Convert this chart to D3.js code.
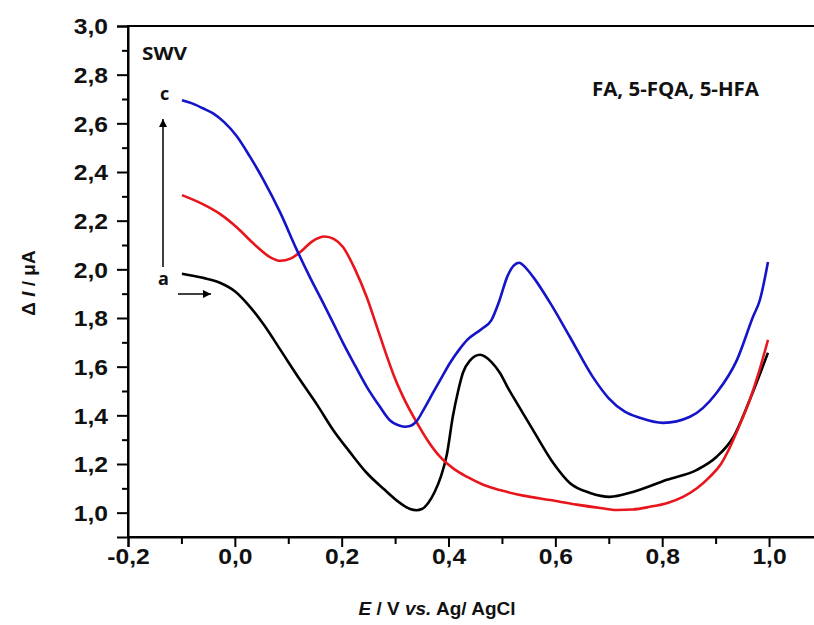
<!DOCTYPE html>
<html><head><meta charset="utf-8">
<script src="https://cdn.jsdelivr.net/npm/d3@7"></script>
<style>body{margin:0;background:#fff}svg{display:block}</style>
</head><body>
<svg id="chart" width="814" height="625"></svg>
<script>
// ---- data ----
const xTicks = [-0.2, 0.0, 0.2, 0.4, 0.6, 0.8, 1.0];
const yTicks = [1.0, 1.2, 1.4, 1.6, 1.8, 2.0, 2.2, 2.4, 2.6, 2.8, 3.0];
const xMinor = [-0.1, 0.1, 0.3, 0.5, 0.7, 0.9];
const yMinor = [1.1, 1.3, 1.5, 1.7, 1.9, 2.1, 2.3, 2.5, 2.7, 2.9];

const curveA_E = [-0.099,-0.06,-0.028,0.0,0.028,0.055,0.085,0.122,0.155,0.184,0.215,0.247,0.28,0.309,0.328,0.34,0.35,0.362,0.374,0.386,0.397,0.408,0.418,0.427,0.44,0.459,0.48,0.496,0.512,0.528,0.558,0.596,0.627,0.665,0.702,0.745,0.809,0.865,0.902,0.933,0.964,0.998];
const curveA_I = [1.982,1.965,1.945,1.91,1.847,1.77,1.67,1.546,1.44,1.34,1.25,1.163,1.095,1.04,1.015,1.01,1.015,1.04,1.085,1.15,1.24,1.394,1.50,1.575,1.625,1.649,1.62,1.575,1.51,1.45,1.34,1.204,1.122,1.081,1.065,1.085,1.135,1.176,1.23,1.31,1.464,1.657];

const curveB_E = [-0.099,-0.06,-0.028,0.004,0.034,0.066,0.085,0.105,0.122,0.145,0.168,0.185,0.202,0.225,0.247,0.265,0.285,0.30,0.315,0.341,0.36,0.384,0.41,0.435,0.465,0.496,0.54,0.59,0.64,0.684,0.715,0.745,0.777,0.81,0.839,0.865,0.889,0.91,0.927,0.945,0.964,0.98,0.998];
const curveB_I = [2.305,2.268,2.228,2.172,2.108,2.05,2.035,2.045,2.07,2.115,2.135,2.125,2.093,2.0,1.885,1.77,1.64,1.55,1.476,1.369,1.30,1.23,1.18,1.147,1.115,1.093,1.07,1.052,1.033,1.019,1.011,1.013,1.024,1.04,1.065,1.10,1.147,1.20,1.27,1.36,1.464,1.57,1.71];

const curveC_E = [-0.099,-0.08,-0.06,-0.04,-0.02,0.004,0.028,0.053,0.085,0.116,0.14,0.165,0.184,0.202,0.225,0.247,0.27,0.29,0.305,0.318,0.328,0.34,0.355,0.371,0.387,0.403,0.42,0.435,0.462,0.48,0.495,0.51,0.522,0.532,0.545,0.558,0.59,0.627,0.67,0.70,0.73,0.758,0.802,0.852,0.902,0.94,0.97,0.983,0.998];
const curveC_I = [2.695,2.682,2.662,2.64,2.605,2.546,2.464,2.37,2.233,2.08,1.97,1.863,1.78,1.70,1.605,1.517,1.44,1.38,1.36,1.353,1.356,1.375,1.43,1.493,1.555,1.616,1.67,1.71,1.755,1.79,1.87,1.97,2.015,2.027,2.005,1.97,1.863,1.723,1.558,1.47,1.415,1.39,1.369,1.394,1.493,1.628,1.805,1.875,2.03];

const seriesNames = ["a", "b", "c"];
const seriesColors = ["#000000", "#e8161c", "#1414c8"];

// ---- layout ----
const svg = d3.select("#chart");
const L = 128, T = 26, B = 537;
const x = d3.scaleLinear().domain([-0.2, 1.1]).range([L, L + 1.3 * 534.2]);
const y = d3.scaleLinear().domain([0.9, 3.0]).range([B, T]);
const fmt = v => v.toFixed(1).replace(".", ",");
const stretch = 1.12;

// curves
const line = d3.line().x(d => x(d[0])).y(d => y(d[1])).curve(d3.curveMonotoneX);
const series = [
  d3.zip(curveA_E, curveA_I),
  d3.zip(curveB_E, curveB_I),
  d3.zip(curveC_E, curveC_I)
];
series.forEach((s, i) => {
  svg.append("path").datum(s).attr("d", line)
    .attr("fill", "none").attr("stroke", seriesColors[i])
    .attr("stroke-width", 2.6).attr("stroke-linejoin", "round");
});

// frame
svg.append("rect").attr("x", x(-0.2)).attr("y", y(3.0))
  .attr("width", x(1.1) - x(-0.2)).attr("height", y(0.9) - y(3.0))
  .attr("fill", "none").attr("stroke", "#000").attr("stroke-width", 2);

// y axis
const gy = svg.append("g").attr("transform", `translate(${L},0)`)
  .call(d3.axisLeft(y).tickValues(yTicks).tickSize(11).tickPadding(9).tickFormat(fmt));
svg.append("g").attr("transform", `translate(${L},0)`)
  .call(d3.axisLeft(y).tickValues(yMinor).tickSize(6).tickFormat(""))
  .call(g => g.select(".domain").remove());
// x axis
const gx = svg.append("g").attr("transform", `translate(0,${B})`)
  .call(d3.axisBottom(x).tickValues(xTicks).tickSize(10).tickPadding(11).tickFormat(fmt));
svg.append("g").attr("transform", `translate(0,${B})`)
  .call(d3.axisBottom(x).tickValues(xMinor).tickSize(7).tickFormat(""))
  .call(g => g.select(".domain").remove());

svg.selectAll(".domain").attr("stroke-width", 2);
svg.selectAll(".tick line").attr("stroke-width", 2);
svg.selectAll(".tick text")
  .attr("font-family", "Liberation Sans, Arial, sans-serif")
  .attr("font-weight", "bold").attr("font-size", 22).attr("fill", "#111");
gy.selectAll(".tick text").attr("dy", "0.36em");
gx.selectAll(".tick text").attr("y", 27).attr("dy", 0);
svg.selectAll(".tick text").each(function () {
  const w = this.getComputedTextLength();
  d3.select(this).attr("textLength", w * stretch).attr("lengthAdjust", "spacingAndGlyphs");
});

// axis titles
const xt = svg.append("text").attr("x", 437).attr("y", 615).attr("text-anchor", "middle")
  .attr("font-family", "Liberation Sans, Arial, sans-serif").attr("font-weight", "bold")
  .attr("font-size", 19).attr("fill", "#111");
xt.append("tspan").attr("font-style", "italic").text("E");
xt.append("tspan").text(" / V ");
xt.append("tspan").attr("font-style", "italic").text("vs.");
xt.append("tspan").text(" Ag/ AgCl");

const yt = svg.append("text").attr("transform", "translate(35,283) rotate(-90)")
  .attr("text-anchor", "middle")
  .attr("font-family", "Liberation Sans, Arial, sans-serif").attr("font-weight", "bold")
  .attr("font-size", 19).attr("fill", "#111");
yt.append("tspan").text("Δ ");
yt.append("tspan").attr("font-style", "italic").text("I");
yt.append("tspan").text(" / μA");

// annotations
const ann = (tx, ty, s, size, len) => {
  const t = svg.append("text").attr("x", tx).attr("y", ty)
    .attr("font-family", "Open Sans, Lato, sans-serif").attr("font-weight", "bold")
    .attr("font-size", size).attr("fill", "#111").text(s);
  if (len) t.attr("textLength", len).attr("lengthAdjust", "spacingAndGlyphs");
  return t;
};
ann(142, 60, "SWV", 18, 45);
ann(592, 96, "FA, 5-FQA, 5-HFA", 19, 167);
ann(160, 100, "c", 18);
ann(158, 285, "a", 18);

// arrows
const defs = svg.append("defs");
defs.append("marker").attr("id", "ah").attr("viewBox", "0 0 10 10")
  .attr("refX", 10).attr("refY", 5).attr("markerWidth", 11).attr("markerHeight", 8)
  .attr("markerUnits", "userSpaceOnUse").attr("orient", "auto")
  .append("path").attr("d", "M0,0 L10,5 L0,10 Z").attr("fill", "#000");
svg.append("line").attr("x1", 163).attr("y1", 267).attr("x2", 163).attr("y2", 119)
  .attr("stroke", "#000").attr("stroke-width", 1.5).attr("marker-end", "url(#ah)");
svg.append("line").attr("x1", 178).attr("y1", 294).attr("x2", 211).attr("y2", 294)
  .attr("stroke", "#000").attr("stroke-width", 1.5).attr("marker-end", "url(#ah)");
</script>
</body></html>
